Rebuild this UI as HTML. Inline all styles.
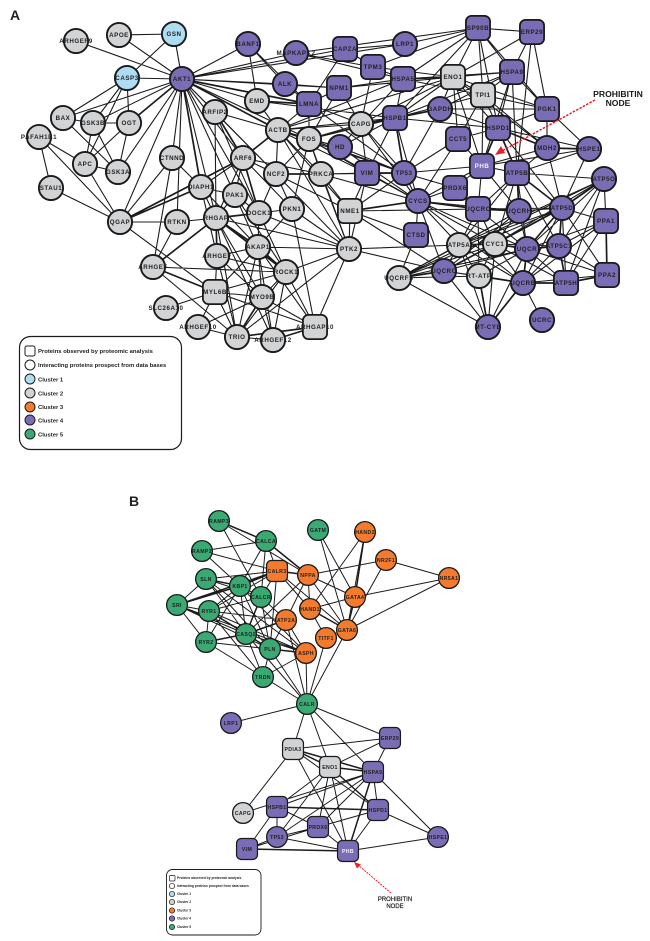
<!DOCTYPE html>
<html><head><meta charset="utf-8">
<style>
html,body{margin:0;padding:0;background:#fff}
svg{display:block}
text{font-family:"Liberation Sans",sans-serif;font-weight:700;fill:#222}
.a text{font-size:6.2px;letter-spacing:.55px;text-anchor:middle}
.b text{font-size:5.2px;letter-spacing:.35px;text-anchor:middle}
.e{fill:none;stroke:#1c1c1c}
.n circle,.n rect{stroke:#1a1a1a}
.a .n circle,.a .n rect{stroke-width:1.9}
.a .n circle{r:12.1px}
.a .n rect{transform-box:fill-box;transform-origin:center;transform:scale(.93)}
.b .n circle,.b .n rect{stroke-width:1.3}
.b .n circle{r:10.4px}
.b .n rect{transform-box:fill-box;transform-origin:center;transform:scale(.95)}
.p circle,.p rect{fill:#7b6db5}
.g circle,.g rect{fill:#d2d3d5}
.c circle{fill:#aedcf2}
.o circle,.o rect{fill:#f47b2d}
.v circle,.v rect{fill:#3aaa72}
.l text{text-anchor:start}
</style></head><body>
<svg width="650" height="941" viewBox="0 0 650 941" xmlns="http://www.w3.org/2000/svg">
<text x="10" y="20" style="font-size:14px" fill="#111">A</text>
<text x="129" y="506" style="font-size:14px" fill="#111">B</text>

<g class="a">
<path class="e" stroke-width="1.1" d="M76 41L182 79M119 35L174 34M119 35L182 79M174 34L127 78M174 34L182 79M127 78L182 79M127 78L63 118M127 78L93 123M127 78L129 123M127 78L85 164M182 79L63 118M182 79L93 123M182 79L118 172M182 79L120 222M182 79L172 158M182 79L177 222M63 118L93 123M63 118L118 172M93 123L129 123M93 123L85 164M93 123L118 172M129 123L85 164M129 123L118 172M39 137L85 164M39 137L51 188M39 137L120 222M85 164L118 172M85 164L120 222M51 188L120 222M172 158L120 222M172 158L201 187M172 158L153 267M120 222L177 222M120 222L215 292M177 222L153 267M177 222L216 218M201 187L216 218M248 44L182 79M248 44L285 84M248 44L257 101M248 44L309 104M296 53L182 79M182 79L345 49M182 79L405 44M182 79L285 84M182 79L257 101M182 79L309 139M182 79L215 112M182 79L243 158M182 79L235 195M182 79L259 213M182 79L216 218M182 79L276 174M182 79L339 88M285 84L309 104M285 84L339 88M257 101L278 130M257 101L395 118M309 104L278 130M309 104L309 139M309 104L361 124M309 104L339 88M309 104L404 173M309 104L345 49M339 88L403 79M339 88L361 124M339 88L453 77M339 88L309 139M345 49L373 67M345 49L405 44M405 44L478 28M296 53L478 28M296 53L403 79M296 53L373 67M373 67L453 77M373 67L361 124M373 67L403 79M373 67L478 28M403 79L512 72M403 79L395 118M403 79L478 28M403 79L361 124M403 79L483 95M478 28L532 32M478 28L453 77M478 28L483 95M478 28L512 72M478 28L498 128M478 28L547 109M478 28L395 118M532 32L512 72M532 32L453 77M532 32L547 109M532 32L517 173M453 77L512 72M453 77L483 95M453 77L395 118M453 77L440 109M453 77L458 139M453 77L498 128M453 77L547 148M453 77L482 166M453 77L547 109M453 77L361 124M512 72L483 95M512 72L547 109M512 72L498 128M512 72L482 166M512 72L517 173M512 72L395 118M512 72L440 109M483 95L547 109M483 95L498 128M483 95L458 139M483 95L547 148M483 95L395 118M483 95L482 166M547 109L547 148M547 109L589 149M547 109L498 128M547 109L440 109M498 128L458 139M498 128L395 118M498 128L589 149M498 128L562 208M498 128L440 109M547 148L482 166M547 148L517 173M547 148L562 208M589 149L517 173M589 149L482 166M589 149L562 208M482 166L517 173M482 166L404 173M482 166L458 139M482 166L418 201M482 166L478 209M482 166L455 188M482 166L519 211M440 109L361 124M440 109L404 173M395 118L361 124M395 118L367 173M395 118L340 147M395 118L418 201M395 118L278 130M361 124L404 173M361 124L367 173M361 124L418 201M361 124L278 130M361 124L309 139M361 124L340 147M458 139L404 173M458 139L418 201M340 147L418 201M340 147L404 173M340 147L278 130M340 147L309 139M404 173L418 201M404 173L350 211M404 173L321 174M404 173L455 188M367 173L418 201M367 173L350 211M367 173L349 249M367 173L321 174M278 130L276 174M278 130L321 174M278 130L404 173M278 130L367 173M278 130L403 79M278 130L453 77M278 130L350 211M278 130L349 249M309 139L321 174M309 139L276 174M309 139L292 209M309 139L404 173M309 139L367 173M309 139L418 201M309 139L349 249M215 112L259 213M215 112L278 130M215 112L276 174M215 112L216 218M243 158L276 174M243 158L321 174M243 158L201 187M243 158L235 195M243 158L216 218M243 158L292 209M276 174L259 213M276 174L292 209M276 174L349 249M276 174L350 211M321 174L367 173M321 174L350 211M321 174L349 249M321 174L404 173M321 174L418 201M235 195L259 213M235 195L216 218M235 195L201 187M235 195L258 247M235 195L286 272M259 213L292 209M259 213L258 247M259 213L349 249M259 213L286 272M292 209L349 249M292 209L315 327M292 209L258 247M216 218L262 297M216 218L237 337M216 218L349 249M216 218L273 340M201 187L217 256M201 187L258 247M258 247L217 256M258 247L349 249M258 247L262 297M258 247L237 337M258 247L273 340M258 247L215 292M217 256L286 272M217 256L215 292M217 256L262 297M217 256L237 337M153 267L286 272M153 267L237 337M286 272L215 292M286 272L349 249M286 272L262 297M286 272L315 327M286 272L273 340M286 272L237 337M215 292L166 308M215 292L262 297M215 292L198 327M215 292L237 337M215 292L315 327M262 297L198 327M262 297L273 340M262 297L315 327M198 327L237 337M237 337L273 340M237 337L349 249M315 327L349 249M315 327L258 247M349 249L444 271M349 249L459 245M350 211L416 235M350 211L444 271M350 211L278 130M350 211L478 209M349 249L350 211M418 201L455 188M418 201L416 235M418 201L459 245M418 201L495 244M418 201L444 271M418 201L527 249M418 201L523 283M418 201L519 211M478 209L562 208M478 209L459 245M478 209L495 244M478 209L455 188M478 209L527 249M478 209L479 276M519 211L562 208M519 211L495 244M519 211L459 245M519 211L527 249M519 211L517 173M519 211L399 278M519 211L444 271M517 173L604 179M517 173L478 209M517 173L495 244M517 173L459 245M517 173L527 249M517 173L559 246M604 179L606 221M604 179L527 249M604 179L495 244M604 179L459 245M604 179L566 283M604 179L559 246M604 179L399 278M562 208L606 221M562 208L459 245M562 208L566 283M562 208L607 275M562 208L523 283M562 208L399 278M606 221L559 246M606 221L566 283M606 221L527 249M606 221L523 283M559 246L607 275M559 246L523 283M559 246L495 244M527 249L566 283M527 249L607 275M527 249L479 276M527 249L444 271M527 249L399 278M527 249L488 327M495 244L444 271M495 244L479 276M495 244L523 283M495 244L399 278M495 244L488 327M495 244L566 283M459 245L444 271M459 245L479 276M459 245L399 278M459 245L523 283M459 245L488 327M399 278L488 327M399 278L479 276M399 278L416 235M444 271L479 276M444 271L523 283M444 271L488 327M523 283L542 320M523 283L607 275"/>
<path class="e" stroke-width="1.7" d="M182 79L129 123M120 222L201 187M120 222L243 158M182 79L309 104M182 79L278 130M182 79L201 187M257 101L309 104M403 79L453 77M498 128L547 148M498 128L482 166M498 128L517 173M547 148L589 149M440 109L395 118M395 118L404 173M404 173L367 173M278 130L309 139M278 130L243 158M309 139L395 118M215 112L243 158M243 158L259 213M276 174L321 174M259 213L216 218M216 218L258 247M216 218L217 256M216 218L153 267M216 218L286 272M258 247L286 272M153 267L215 292M262 297L237 337M237 337L315 327M273 340L315 327M350 211L418 201M418 201L478 209M478 209L519 211M517 173L562 208M517 173L519 211M604 179L562 208M562 208L559 246M562 208L527 249M562 208L495 244M562 208L444 271M606 221L607 275M559 246L566 283M559 246L527 249M527 249L495 244M527 249L523 283M495 244L459 245M399 278L444 271M479 276L523 283M479 276L488 327M523 283L566 283M523 283L488 327M566 283L607 275"/>
<g class="n g">
<circle cx="76" cy="41" r="13"/><circle cx="119" cy="35" r="13"/><circle cx="63" cy="118" r="13"/><circle cx="93" cy="123" r="13"/><circle cx="129" cy="123" r="13"/><circle cx="39" cy="137" r="13"/><circle cx="85" cy="164" r="13"/><circle cx="118" cy="172" r="13"/><circle cx="172" cy="158" r="13"/><circle cx="51" cy="188" r="13"/><circle cx="120" cy="222" r="13"/><circle cx="177" cy="222" r="13"/><circle cx="215" cy="112" r="13"/><circle cx="243" cy="158" r="13"/><circle cx="257" cy="101" r="13"/><circle cx="278" cy="130" r="13"/><circle cx="309" cy="139" r="13"/><circle cx="276" cy="174" r="13"/><circle cx="321" cy="174" r="13"/><circle cx="201" cy="187" r="13"/><circle cx="235" cy="195" r="13"/><circle cx="259" cy="213" r="13"/><circle cx="292" cy="209" r="13"/><circle cx="216" cy="218" r="13"/><circle cx="258" cy="247" r="13"/><circle cx="217" cy="256" r="13"/><circle cx="153" cy="267" r="13"/><circle cx="286" cy="272" r="13"/><circle cx="262" cy="297" r="13"/><circle cx="166" cy="308" r="13"/><circle cx="198" cy="327" r="13"/><circle cx="237" cy="337" r="13"/><circle cx="273" cy="340" r="13"/><circle cx="349" cy="249" r="13"/><circle cx="361" cy="124" r="13"/><circle cx="459" cy="245" r="13"/><circle cx="495" cy="244" r="13"/><circle cx="399" cy="278" r="13"/><circle cx="479" cy="276" r="13"/>
<rect x="202" y="279" width="26" height="26" rx="6"/><rect x="302" y="314" width="26" height="26" rx="6"/><rect x="337" y="198" width="26" height="26" rx="6"/><rect x="440" y="64" width="26" height="26" rx="6"/><rect x="470" y="82" width="26" height="26" rx="6"/>
</g>
<g class="n c"><circle cx="174" cy="34" r="13"/><circle cx="127" cy="78" r="13"/></g>
<g class="n p">
<circle cx="182" cy="79" r="13"/><circle cx="248" cy="44" r="13"/><circle cx="296" cy="53" r="13"/><circle cx="285" cy="84" r="13"/><circle cx="405" cy="44" r="13"/><circle cx="440" cy="109" r="13"/><circle cx="547" cy="148" r="13"/><circle cx="589" cy="149" r="13"/><circle cx="340" cy="147" r="13"/><circle cx="404" cy="173" r="13"/><circle cx="604" cy="179" r="13"/><circle cx="418" cy="201" r="13"/><circle cx="519" cy="211" r="13"/><circle cx="562" cy="208" r="13"/><circle cx="527" cy="249" r="13"/><circle cx="559" cy="246" r="13"/><circle cx="444" cy="271" r="13"/><circle cx="523" cy="283" r="13"/><circle cx="542" cy="320" r="13"/><circle cx="488" cy="327" r="13"/>
<rect x="296" y="91" width="26" height="26" rx="6"/><rect x="465" y="15" width="26" height="26" rx="6"/><rect x="519" y="19" width="26" height="26" rx="6"/><rect x="332" y="36" width="26" height="26" rx="6"/><rect x="360" y="54" width="26" height="26" rx="6"/><rect x="390" y="66" width="26" height="26" rx="6"/><rect x="499" y="59" width="26" height="26" rx="6"/><rect x="326" y="75" width="26" height="26" rx="6"/><rect x="534" y="96" width="26" height="26" rx="6"/><rect x="382" y="105" width="26" height="26" rx="6"/><rect x="485" y="115" width="26" height="26" rx="6"/><rect x="445" y="126" width="26" height="26" rx="6"/><rect x="469" y="153" width="26" height="26" rx="6"/><rect x="504" y="160" width="26" height="26" rx="6"/><rect x="354" y="160" width="26" height="26" rx="6"/><rect x="442" y="175" width="26" height="26" rx="6"/><rect x="465" y="196" width="26" height="26" rx="6"/><rect x="593" y="208" width="26" height="26" rx="6"/><rect x="403" y="222" width="26" height="26" rx="6"/><rect x="553" y="270" width="26" height="26" rx="6"/><rect x="594" y="262" width="26" height="26" rx="6"/>
</g>
<text x="76" y="43">ARHGEF9</text><text x="119" y="37">APOE</text><text x="174" y="36">GSN</text><text x="127" y="80">CASP3</text><text x="182" y="81">AKT1</text><text x="248" y="46">BANF1</text><text x="296" y="55">MAPKAPK2</text><text x="285" y="86">ALK</text><text x="257" y="103">EMD</text><text x="309" y="106">LMNA</text><text x="63" y="120">BAX</text><text x="93" y="125">GSK3B</text><text x="129" y="125">OGT</text><text x="39" y="139">PAFAH1B1</text><text x="85" y="166">APC</text><text x="118" y="174">GSK3A</text><text x="172" y="160">CTNND</text><text x="51" y="190">STAU1</text><text x="120" y="224">QGAP</text><text x="177" y="224">RTKN</text><text x="215" y="114">ARFIP2</text><text x="243" y="160">ARF6</text><text x="278" y="132">ACTB</text><text x="309" y="141">FOS</text><text x="276" y="176">NCF2</text><text x="321" y="176">PRKCA</text><text x="201" y="189">DIAPH1</text><text x="235" y="197">PAK1</text><text x="259" y="215">DOCK1</text><text x="292" y="211">PKN1</text><text x="216" y="220">RHGAP</text><text x="258" y="249">AKAP1</text><text x="217" y="258">ARHGEF</text><text x="153" y="269">ARHGEF</text><text x="286" y="274">ROCK1</text><text x="215" y="294">MYL6B</text><text x="262" y="299">MYO9B</text><text x="166" y="310">SLC26A10</text><text x="198" y="329">ARHGEF10</text><text x="237" y="339">TRIO</text><text x="273" y="342">ARHGEF12</text><text x="315" y="329">ARHGAP10</text><text x="478" y="30">SP90B</text><text x="532" y="34">ERP29</text><text x="345" y="51">CAPZA</text><text x="405" y="46">LRP1</text><text x="373" y="69">TPM3</text><text x="403" y="81">HSPA5</text><text x="453" y="79">ENO1</text><text x="512" y="74">HSPA9</text><text x="483" y="97">TPI1</text><text x="339" y="90">NPM1</text><text x="547" y="111">PGK1</text><text x="440" y="111">GAPDH</text><text x="395" y="120">HSPB1</text><text x="361" y="126">CAPG</text><text x="498" y="130">HSPD1</text><text x="458" y="141">CCT5</text><text x="547" y="150">MDH2</text><text x="589" y="151">HSPE1</text><text x="340" y="149">HD</text><text x="482" y="168" style="fill:#f4f2fb">PHB</text><text x="517" y="175">ATP5B</text><text x="367" y="175">VIM</text><text x="404" y="175">TP53</text><text x="604" y="181">ATP5O</text><text x="455" y="190">PRDX6</text><text x="418" y="203">CYCS</text><text x="350" y="213">NME1</text><text x="478" y="211">UQCRC</text><text x="519" y="213">UQCRH</text><text x="562" y="210">ATP5D</text><text x="606" y="223">PPA1</text><text x="416" y="237">CTSD</text><text x="349" y="251">PTK2</text><text x="459" y="247">ATP5A</text><text x="495" y="246">CYC1</text><text x="527" y="251">UQCR</text><text x="559" y="248">ATP5C1</text><text x="399" y="280">UQCRFS</text><text x="444" y="273">UQCRC</text><text x="479" y="278">RT-ATP</text><text x="523" y="285">UQCRB</text><text x="566" y="285">ATP5H</text><text x="607" y="277">PPA2</text><text x="542" y="322">UCRC</text><text x="488" y="329">MT-CYB</text>
<path d="M595 100L500 152" stroke="#e8202a" stroke-width="1.5" stroke-dasharray="2.5 1.3" fill="none"/>
<path d="M495 155L505 153L501 146Z" fill="#e8202a"/>
<text x="618" y="97" style="font-size:8.6px;letter-spacing:0;fill:#1a1a1a">PROHIBITIN</text>
<text x="618" y="106" style="font-size:8.6px;letter-spacing:0;fill:#1a1a1a">NODE</text>
<g class="l">
<rect x="19.500" y="336.500" width="162" height="113" rx="11" fill="#fff" stroke="#1c1c1c" stroke-width="1.2"/>
<rect x="25" y="346" width="10" height="10" rx="2" fill="#fff" stroke="#1c1c1c" stroke-width="1"/>
<circle cx="30" cy="365" r="5" fill="#fff" stroke="#1c1c1c"/><circle cx="30" cy="379" r="5" fill="#aedcf2" stroke="#1c1c1c"/><circle cx="30" cy="393" r="5" fill="#d2d3d5" stroke="#1c1c1c"/><circle cx="30" cy="407" r="5" fill="#f47b2d" stroke="#1c1c1c"/><circle cx="30" cy="420" r="5" fill="#7b6db5" stroke="#1c1c1c"/><circle cx="30" cy="434" r="5" fill="#3aaa72" stroke="#1c1c1c"/>
<text x="38" y="353" style="font-size:5.9px;letter-spacing:0">Proteins observed by proteomic analysis</text>
<text x="38" y="367" style="font-size:5.9px;letter-spacing:0">Interacting proteins prospect from data bases</text>
<text x="38" y="381.500" style="font-size:5.9px;letter-spacing:0">Cluster 1</text>
<text x="38" y="395.500" style="font-size:5.9px;letter-spacing:0">Cluster 2</text>
<text x="38" y="409" style="font-size:5.9px;letter-spacing:0">Cluster 3</text>
<text x="38" y="422.500" style="font-size:5.9px;letter-spacing:0">Cluster 4</text>
<text x="38" y="436.500" style="font-size:5.9px;letter-spacing:0">Cluster 5</text>
</g>
</g>

<g class="b">
<path class="e" stroke-width="1" d="M219 521L261 597M219 521L308 575M266 541L202 551M266 541L277 571M266 541L240 586M266 541L261 597M202 551L277 571M202 551L240 586M318 530L355 597M318 530L347 630M365 532L347 630M365 532L310 609M386 560L308 575M386 560L347 630M386 560L449 578M449 578L355 597M449 578L347 630M277 571L206 579M277 571L261 597M277 571L270 649M277 571L310 609M277 571L347 630M277 571L209 611M308 575L310 609M308 575L355 597M308 575L286 620M308 575L246 634M308 575L347 630M206 579L177 605M206 579L261 597M206 579L246 634M206 579L270 649M206 579L306 653M240 586L261 597M240 586L209 611M240 586L206 642M240 586L246 634M240 586L270 649M240 586L306 653M261 597L286 620M261 597L270 649M261 597L209 611M177 605L209 611M177 605L206 642M177 605L246 634M177 605L270 649M177 605L306 653M209 611L206 642M209 611L286 620M209 611L306 653M209 611L263 677M206 642L263 677M206 642L270 649M206 642L306 653M206 642L307 704M246 634L306 653M246 634L263 677M246 634L307 704M270 649L286 620M270 649L263 677M270 649L307 704M286 620L306 653M286 620L307 704M306 653L263 677M306 653L307 704M263 677L307 704M310 609L355 597M310 609L326 638M347 630L307 704M326 638L307 704M307 704L231 723M307 704L390 738M307 704L293 749M307 704L330 767M307 704L373 772M293 749L390 738M293 749L243 813M293 749L348 851M293 749L378 810M390 738L330 767M390 738L373 772M330 767L277 807M330 767L318 827M330 767L348 851M330 767L277 837M373 772L378 810M373 772L243 813M373 772L277 807M373 772L318 827M373 772L277 837M373 772L438 837M277 807L318 827M277 807L277 837M277 807L247 849M378 810L318 827M378 810L348 851M378 810L438 837M318 827L277 837M318 827L348 851M318 827L247 849M277 837L348 851M277 837L247 849M348 851L438 837"/>
<path class="e" stroke-width="1.5" d="M219 521L266 541M266 541L308 575M365 532L355 597M277 571L308 575M277 571L240 586M277 571L177 605M206 579L240 586M240 586L177 605M261 597L246 634M209 611L246 634M209 611L270 649M206 642L246 634M246 634L286 620M246 634L270 649M270 649L306 653M310 609L347 630M355 597L347 630M293 749L330 767M293 749L373 772M330 767L373 772M330 767L378 810M373 772L348 851M277 807L378 810M247 849L348 851"/>
<g class="n v">
<circle cx="219" cy="521" r="11"/><circle cx="266" cy="541" r="11"/><circle cx="318" cy="530" r="11"/><circle cx="202" cy="551" r="11"/><circle cx="206" cy="579" r="11"/><circle cx="240" cy="586" r="11"/><circle cx="261" cy="597" r="11"/><circle cx="177" cy="605" r="11"/><circle cx="209" cy="611" r="11"/><circle cx="246" cy="634" r="11"/><circle cx="206" cy="642" r="11"/><circle cx="270" cy="649" r="11"/><circle cx="263" cy="677" r="11"/><circle cx="307" cy="704" r="11"/>
</g>
<g class="n o">
<circle cx="365" cy="532" r="11"/><circle cx="386" cy="560" r="11"/><circle cx="308" cy="575" r="11"/><circle cx="449" cy="578" r="11"/><circle cx="355" cy="597" r="11"/><circle cx="310" cy="609" r="11"/><circle cx="286" cy="620" r="11"/><circle cx="347" cy="630" r="11"/><circle cx="326" cy="638" r="11"/><circle cx="306" cy="653" r="11"/>
<rect x="266" y="560" width="22" height="22" rx="5"/>
</g>
<g class="n g">
<circle cx="243" cy="813" r="11"/>
<rect x="282" y="738" width="22" height="22" rx="5"/><rect x="319" y="756" width="22" height="22" rx="5"/>
</g>
<g class="n p">
<circle cx="231" cy="723" r="11"/><circle cx="277" cy="837" r="11"/><circle cx="438" cy="837" r="11"/>
<rect x="379" y="727" width="22" height="22" rx="5"/><rect x="362" y="761" width="22" height="22" rx="5"/><rect x="266" y="796" width="22" height="22" rx="5"/><rect x="367" y="799" width="22" height="22" rx="5"/><rect x="307" y="816" width="22" height="22" rx="5"/><rect x="236" y="838" width="22" height="22" rx="5"/><rect x="337" y="840" width="22" height="22" rx="5"/>
</g>
<text x="219" y="523">RAMP3</text><text x="266" y="543">CALCA</text><text x="318" y="532">GATM</text><text x="365" y="534">HAND2</text><text x="202" y="553">RAMP2</text><text x="386" y="562">NR2F1</text><text x="277" y="573">CALR3</text><text x="308" y="577">NPPA</text><text x="449" y="580">NR5A1</text><text x="206" y="581">SLN</text><text x="240" y="588">KBP1</text><text x="261" y="599">CALCR</text><text x="355" y="599">GATA4</text><text x="177" y="607">SRI</text><text x="209" y="613">RYR1</text><text x="310" y="611">HAND1</text><text x="286" y="622">ATP2A</text><text x="347" y="632">GATA6</text><text x="326" y="640">TITF1</text><text x="246" y="636">CASQ2</text><text x="206" y="644">RYR2</text><text x="270" y="651">PLN</text><text x="306" y="655">ASPH</text><text x="263" y="679">TRDN</text><text x="307" y="706">CALR</text><text x="231" y="725">LRP1</text><text x="390" y="740">ERP29</text><text x="293" y="751">PDIA3</text><text x="330" y="769">ENO1</text><text x="373" y="774">HSPA9</text><text x="277" y="809">HSPB1</text><text x="378" y="812">HSPD1</text><text x="243" y="815">CAPG</text><text x="318" y="829">PRDX6</text><text x="277" y="839">TP53</text><text x="438" y="839">HSPE1</text><text x="247" y="851">VIM</text><text x="348" y="853" style="fill:#f4f2fb">PHB</text>
<path d="M391 893L358 865" stroke="#e8202a" stroke-width="1" stroke-dasharray="2 1" fill="none"/>
<path d="M354 862L361 864.500L357 868.500Z" fill="#e8202a"/>
<text x="395" y="901" style="font-size:6px;letter-spacing:0;font-weight:400;stroke:#2a2a2a;stroke-width:.2">PROHIBITIN</text>
<text x="395" y="908" style="font-size:6px;letter-spacing:0;font-weight:400;stroke:#2a2a2a;stroke-width:.2">NODE</text>
<g class="l">
<rect x="166.500" y="869.500" width="94.500" height="65.500" rx="6" fill="#fff" stroke="#1c1c1c" stroke-width=".9"/>
<rect x="169.500" y="875.500" width="5.500" height="5.500" rx="1" fill="#fff" stroke="#1c1c1c" stroke-width=".7"/>
<circle cx="172" cy="886" r="2.700" fill="#fff" stroke="#1c1c1c" stroke-width=".7"/><circle cx="172" cy="894" r="2.700" fill="#aedcf2" stroke="#1c1c1c" stroke-width=".7"/><circle cx="172" cy="902" r="2.700" fill="#d2d3d5" stroke="#1c1c1c" stroke-width=".7"/><circle cx="172" cy="910.500" r="2.700" fill="#f47b2d" stroke="#1c1c1c" stroke-width=".7"/><circle cx="172" cy="918.500" r="2.700" fill="#7b6db5" stroke="#1c1c1c" stroke-width=".7"/><circle cx="172" cy="927" r="2.700" fill="#3aaa72" stroke="#1c1c1c" stroke-width=".7"/>
<text x="177" y="879" style="font-size:3.300px;letter-spacing:0">Proteins observed by proteomic analysis</text>
<text x="177" y="887" style="font-size:3.300px;letter-spacing:0">Interacting proteins prospect from data bases</text>
<text x="177" y="895" style="font-size:3.300px;letter-spacing:0">Cluster 1</text>
<text x="177" y="903" style="font-size:3.300px;letter-spacing:0">Cluster 2</text>
<text x="177" y="911.500" style="font-size:3.300px;letter-spacing:0">Cluster 3</text>
<text x="177" y="919.500" style="font-size:3.300px;letter-spacing:0">Cluster 4</text>
<text x="177" y="928" style="font-size:3.300px;letter-spacing:0">Cluster 5</text>
</g>
</g>
</svg>
</body></html>
